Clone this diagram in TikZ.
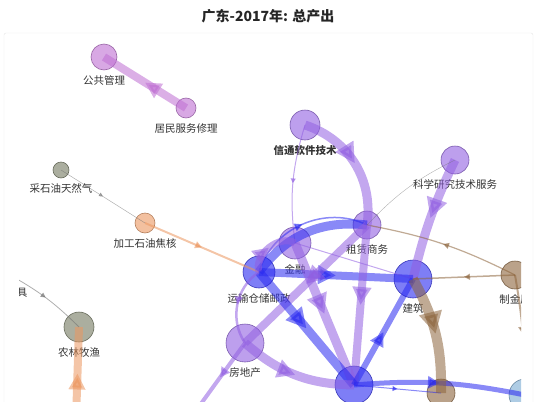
\documentclass[tikz,border=0pt]{standalone}
\usepackage{fontspec}
\setmainfont{Noto Sans CJK SC}
\usepackage{xcolor}
\usepackage{tikz}
\usetikzlibrary{arrows.meta, decorations.markings, positioning}

\definecolor{vio}{RGB}{145,95,225}
\definecolor{blu}{RGB}{40,40,240}
\definecolor{orc}{RGB}{190,110,210}
\definecolor{olv}{RGB}{115,120,95}
\definecolor{gry}{RGB}{110,110,110}
\definecolor{org}{RGB}{235,150,95}
\definecolor{brn}{RGB}{140,100,60}
\definecolor{skyb}{RGB}{120,170,210}

\begin{document}
\begin{tikzpicture}[x=1pt, y=-1pt,
  nd/.style={circle, inner sep=0pt, fill opacity=.6, draw opacity=.8, line width=.6pt},
  lab/.style={inner sep=0pt, text=black!80, font=\fontsize{10.5}{12}\selectfont},
  ed/.style={opacity=.55},
  mid/.style={postaction={decorate}, decoration={markings,
      mark=at position .5 with {\arrow{Triangle[length=#1, width=#1]}}}},
  node distance=5pt]
  \useasboundingbox (0,0) rectangle (536,402);
  \draw[black!10, rounded corners=2pt] (4,33) rectangle (533,430);
  \node[text=black!85] (title) at (268,16) {\fontsize{14}{16}\selectfont\bfseries 广东-2017年: 总产出};

  \begin{scope}
  \clip (19,38) rectangle (521,402);
  % sectors
  \node[nd, fill=orc, draw=orc!70!black, minimum size=26pt] (gg) at (104,57) {};
  \node[nd, fill=orc, draw=orc!70!black, minimum size=20pt] (jm) at (186,108) {};
  \node[nd, fill=vio, draw=vio!70!black, minimum size=30pt] (xt) at (305,125) {};
  \node[nd, fill=vio, draw=vio!70!black, minimum size=28pt] (kx) at (455,160) {};
  \node[nd, fill=olv, draw=olv!70!black, minimum size=16pt] (cs) at (61,170) {};
  \node[nd, fill=org, draw=org!70!black, minimum size=20pt] (jg) at (145,223) {};
  \node[nd, fill=vio, draw=vio!70!black, minimum size=28pt] (zl) at (367,225) {};
  \node[nd, fill=vio, draw=vio!70!black, minimum size=32pt] (jr) at (295,243) {};
  \node[nd, fill=blu, draw=blu!70!black, minimum size=32pt] (ys) at (259,272) {};
  \node[nd, fill=blu, draw=blu!70!black, minimum size=38pt] (jz) at (413,279) {};
  \node[nd, fill=brn, draw=brn!70!black, minimum size=28pt] (zj) at (515,275) {};
  \node[nd, fill=olv, draw=olv!70!black, minimum size=30pt] (ny) at (79,327) {};
  \node[nd, fill=vio, draw=vio!70!black, minimum size=38pt] (fd) at (245,343) {};
  \node[nd, fill=blu, draw=blu!70!black, minimum size=38pt] (zz) at (354,385) {};
  \node[nd, fill=brn, draw=brn!70!black, minimum size=28pt] (br) at (441,393) {};
  \node[nd, fill=skyb, draw=skyb!70!black, minimum size=32pt] (lb) at (525,395) {};
  \coordinate (jj) at (8,274);
  \coordinate (fdo) at (195,412);
  \coordinate (nyo) at (76,420);

  % labels
  \node[lab, below=of gg] (gg-t) {公共管理};
  \node[lab, below=of jm] (jm-t) {居民服务修理};
  \node[lab, below=of xt, font=\fontsize{10.5}{12}\selectfont\bfseries] (xt-t) {信通软件技术};
  \node[lab, below=of kx] (kx-t) {科学研究技术服务};
  \node[lab, below=of cs] (cs-t) {采石油天然气};
  \node[lab, below=of jg] (jg-t) {加工石油焦核};
  \node[lab, below=of zl] (zl-t) {租赁商务};
  \node[lab, below=of jr] (jr-t) {金融};
  \node[lab, below=of ys] (ys-t) {运输仓储邮政};
  \node[lab, below=of jz] (jz-t) {建筑};
  \node[lab, below=of zj] (zj-t) {制金属};
  \node[lab, below=of ny] (ny-t) {农林牧渔};
  \node[lab, below=of fd] (fd-t) {房地产};
  \node[lab] (jj-t) at (22,293) {具};

  % flows
  \draw[ed, orc, line width=8pt, mid=16pt] (jm.center) -- (gg.center);
  \draw[ed, gry, line width=.5pt, mid=4pt] (cs.center) -- (jg.center);
  \draw[ed, org, line width=2pt, mid=7pt] (jg.center) -- (ys.center);
  \draw[ed, vio, line width=9pt, mid=20pt] (xt.center) to[bend left=40] (zl.center);
  \draw[ed, vio, line width=1pt, mid=5pt] (xt.center) to[bend right=12] (jr.center);
  \draw[ed, vio, line width=9pt, mid=20pt] (kx.center) to[bend right=6] (jz.center);
  \draw[ed, gry, line width=.4pt] (kx.center) to[bend right=10] (zl.center);
  \draw[ed, brn, line width=1.2pt, mid=6pt] (zj.center) to[bend right=8] (zl.center);
  \draw[ed, brn, line width=1.5pt, mid=6pt] (zj.center) -- (jz.center);
  \draw[ed, brn, line width=2pt, mid=8pt] (zj.center) to[bend left=5] (lb.center);
  \draw[ed, vio, line width=1pt] (jr.center) -- (jz.center);
  \draw[ed, blu, line width=8pt, mid=18pt] (ys.center) -- (jz.center);
  \draw[ed, blu, line width=9pt] (ys.center) to[bend left=30] (zl.center);
  \draw[ed, blu, line width=1.5pt, mid=8pt] (ys.center) to[bend left=50] (zl.center);
  \draw[ed, vio, line width=7pt, mid=16pt] (ys.center) to[bend left=70] (jr.center);
  \draw[ed, vio, line width=8pt, mid=18pt] (zl.center) -- (fd.center);
  \draw[ed, vio, line width=9pt, mid=20pt] (jr.center) -- (zz.center);
  \draw[ed, vio, line width=8pt, mid=18pt] (zl.center) -- (zz.center);
  \draw[ed, blu, line width=9pt, mid=20pt] (ys.center) -- (zz.center);
  \draw[ed, vio, line width=9pt, mid=18pt] (fd.center) to[bend right=20] (zz.center);
  \draw[ed, vio, line width=4pt, mid=10pt] (fd.center) -- (fdo);
  \draw[ed, vio, line width=2.5pt, mid=8pt] (ys.center) to[bend right=45] (fd.center);
  \draw[ed, blu, line width=6pt, mid=14pt] (zz.center) -- (jz.center);
  \draw[ed, blu, line width=5pt, mid=12pt] (zz.center) to[bend left=8] (lb.center);
  \draw[ed, blu, line width=1pt, mid=5pt] (zz.center) -- (br.center);
  \draw[ed, brn, line width=10pt, mid=22pt] (jz.center) to[bend left=15] (br.center);
  \draw[ed, gry, line width=.8pt, mid=5pt] (jj) to[bend left=8] (ny.center);
  \draw[ed, org, line width=8pt, mid=16pt] (nyo) -- (ny.center);
  \end{scope}
\end{tikzpicture}
\end{document}
